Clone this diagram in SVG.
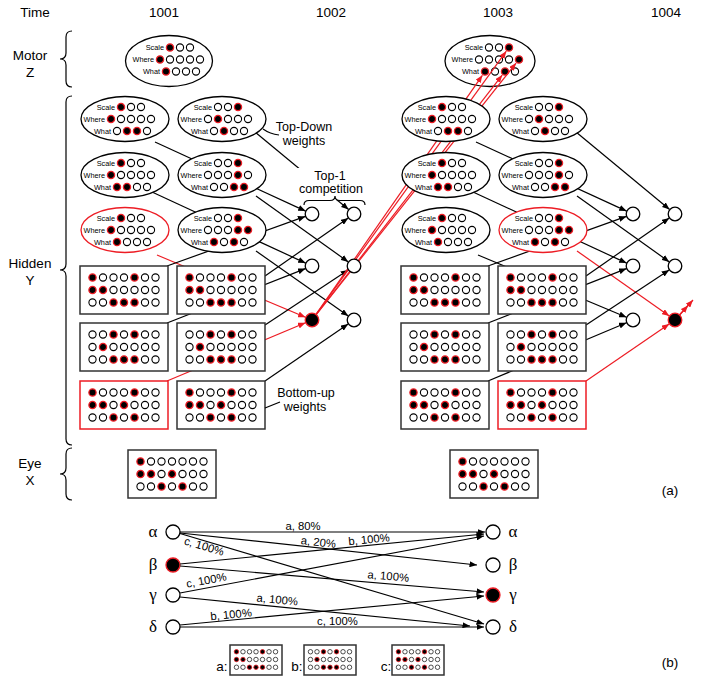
<svg xmlns="http://www.w3.org/2000/svg" width="705" height="679" viewBox="0 0 705 679">
<style>
text{font-family:"Liberation Sans",Arial,sans-serif;fill:#000}
.t{font-size:13.5px;text-anchor:middle}
.an{font-size:12.5px;text-anchor:middle}
.lb{font-size:7.3px;text-anchor:end}
.o{fill:#fff;stroke:#000;stroke-width:1.1}
.f{fill:#000;stroke:#ed1c24;stroke-width:1.3}
.el{fill:#fff;stroke:#000;stroke-width:1.3}
.elr{fill:#fff;stroke:#ed1c24;stroke-width:1.3}
.bx{fill:#fff;stroke:#333;stroke-width:1.5}
.bxr{fill:#fff;stroke:#ed1c24;stroke-width:1.5}
.ln{fill:none;stroke:#000;stroke-width:1.2;marker-end:url(#ah)}
.lr{fill:none;stroke:#ed1c24;stroke-width:1.2;marker-end:url(#ahr)}
.br{fill:none;stroke:#000;stroke-width:1.2}
.nd{fill:#fff;stroke:#000;stroke-width:1.3}
.ndf{fill:#000;stroke:#ed1c24;stroke-width:1.3}
.gk{font-family:"Liberation Serif","DejaVu Serif",serif;font-size:17px;text-anchor:middle}
.bl{font-size:11.3px;text-anchor:middle}
</style>
<defs>
<marker id="ah" viewBox="0 0 10 8" refX="10" refY="4" markerWidth="7.5" markerHeight="6" markerUnits="userSpaceOnUse" orient="auto"><path d="M0,0L10,4L0,8z" fill="#000"/></marker>
<marker id="ahr" viewBox="0 0 10 8" refX="10" refY="4" markerWidth="7.5" markerHeight="6" markerUnits="userSpaceOnUse" orient="auto"><path d="M0,0L10,4L0,8z" fill="#ed1c24"/></marker>
<g id="P1">
<circle class="f" cx="-31.5" cy="-12.5" r="3.6"/><circle class="o" cx="-21" cy="-12.5" r="3.6"/><circle class="o" cx="-10.5" cy="-12.5" r="3.6"/><circle class="o" cx="0" cy="-12.5" r="3.6"/><circle class="f" cx="10.5" cy="-12.5" r="3.6"/><circle class="o" cx="21" cy="-12.5" r="3.6"/><circle class="o" cx="31.5" cy="-12.5" r="3.6"/>
<circle class="f" cx="-31.5" cy="0" r="3.6"/><circle class="f" cx="-21" cy="0" r="3.6"/><circle class="o" cx="-10.5" cy="0" r="3.6"/><circle class="o" cx="0" cy="0" r="3.6"/><circle class="o" cx="10.5" cy="0" r="3.6"/><circle class="o" cx="21" cy="0" r="3.6"/><circle class="o" cx="31.5" cy="0" r="3.6"/>
<circle class="o" cx="-31.5" cy="12.5" r="3.6"/><circle class="o" cx="-21" cy="12.5" r="3.6"/><circle class="f" cx="-10.5" cy="12.5" r="3.6"/><circle class="f" cx="0" cy="12.5" r="3.6"/><circle class="f" cx="10.5" cy="12.5" r="3.6"/><circle class="o" cx="21" cy="12.5" r="3.6"/><circle class="o" cx="31.5" cy="12.5" r="3.6"/>
</g>
<g id="P2">
<circle class="o" cx="-31.5" cy="-12.5" r="3.6"/><circle class="o" cx="-21" cy="-12.5" r="3.6"/><circle class="f" cx="-10.5" cy="-12.5" r="3.6"/><circle class="o" cx="0" cy="-12.5" r="3.6"/><circle class="f" cx="10.5" cy="-12.5" r="3.6"/><circle class="o" cx="21" cy="-12.5" r="3.6"/><circle class="o" cx="31.5" cy="-12.5" r="3.6"/>
<circle class="o" cx="-31.5" cy="0" r="3.6"/><circle class="f" cx="-21" cy="0" r="3.6"/><circle class="o" cx="-10.5" cy="0" r="3.6"/><circle class="o" cx="0" cy="0" r="3.6"/><circle class="o" cx="10.5" cy="0" r="3.6"/><circle class="o" cx="21" cy="0" r="3.6"/><circle class="o" cx="31.5" cy="0" r="3.6"/>
<circle class="o" cx="-31.5" cy="12.5" r="3.6"/><circle class="o" cx="-21" cy="12.5" r="3.6"/><circle class="f" cx="-10.5" cy="12.5" r="3.6"/><circle class="f" cx="0" cy="12.5" r="3.6"/><circle class="f" cx="10.5" cy="12.5" r="3.6"/><circle class="o" cx="21" cy="12.5" r="3.6"/><circle class="o" cx="31.5" cy="12.5" r="3.6"/>
</g>
<g id="P3">
<circle class="f" cx="-31.5" cy="-12.5" r="3.6"/><circle class="o" cx="-21" cy="-12.5" r="3.6"/><circle class="o" cx="-10.5" cy="-12.5" r="3.6"/><circle class="o" cx="0" cy="-12.5" r="3.6"/><circle class="f" cx="10.5" cy="-12.5" r="3.6"/><circle class="o" cx="21" cy="-12.5" r="3.6"/><circle class="o" cx="31.5" cy="-12.5" r="3.6"/>
<circle class="f" cx="-31.5" cy="0" r="3.6"/><circle class="f" cx="-21" cy="0" r="3.6"/><circle class="o" cx="-10.5" cy="0" r="3.6"/><circle class="f" cx="0" cy="0" r="3.6"/><circle class="o" cx="10.5" cy="0" r="3.6"/><circle class="o" cx="21" cy="0" r="3.6"/><circle class="o" cx="31.5" cy="0" r="3.6"/>
<circle class="o" cx="-31.5" cy="12.5" r="3.6"/><circle class="o" cx="-21" cy="12.5" r="3.6"/><circle class="f" cx="-10.5" cy="12.5" r="3.6"/><circle class="o" cx="0" cy="12.5" r="3.6"/><circle class="f" cx="10.5" cy="12.5" r="3.6"/><circle class="o" cx="21" cy="12.5" r="3.6"/><circle class="o" cx="31.5" cy="12.5" r="3.6"/>
</g>
<g id="PE">
<circle class="f" cx="-31.5" cy="-12.5" r="3.6"/><circle class="o" cx="-21" cy="-12.5" r="3.6"/><circle class="o" cx="-10.5" cy="-12.5" r="3.6"/><circle class="o" cx="0" cy="-12.5" r="3.6"/><circle class="o" cx="10.5" cy="-12.5" r="3.6"/><circle class="o" cx="21" cy="-12.5" r="3.6"/><circle class="o" cx="31.5" cy="-12.5" r="3.6"/>
<circle class="f" cx="-31.5" cy="0" r="3.6"/><circle class="f" cx="-21" cy="0" r="3.6"/><circle class="o" cx="-10.5" cy="0" r="3.6"/><circle class="f" cx="0" cy="0" r="3.6"/><circle class="o" cx="10.5" cy="0" r="3.6"/><circle class="o" cx="21" cy="0" r="3.6"/><circle class="o" cx="31.5" cy="0" r="3.6"/>
<circle class="o" cx="-31.5" cy="12.5" r="3.6"/><circle class="o" cx="-21" cy="12.5" r="3.6"/><circle class="f" cx="-10.5" cy="12.5" r="3.6"/><circle class="o" cx="0" cy="12.5" r="3.6"/><circle class="f" cx="10.5" cy="12.5" r="3.6"/><circle class="o" cx="21" cy="12.5" r="3.6"/><circle class="o" cx="31.5" cy="12.5" r="3.6"/>
</g>
<g id="E1">
<circle class="f" cx="-4" cy="-12" r="3.6"/><circle class="o" cx="6" cy="-12" r="3.6"/><circle class="o" cx="16" cy="-12" r="3.6"/>
<circle class="f" cx="-14" cy="0" r="3.6"/><circle class="o" cx="-4" cy="0" r="3.6"/><circle class="o" cx="6" cy="0" r="3.6"/><circle class="o" cx="16" cy="0" r="3.6"/><circle class="o" cx="26" cy="0" r="3.6"/>
<circle class="o" cx="-8" cy="12" r="3.6"/><circle class="f" cx="2" cy="12" r="3.6"/><circle class="f" cx="12" cy="12" r="3.6"/><circle class="o" cx="22" cy="12" r="3.6"/>
</g>
<g id="E2">
<circle class="o" cx="-4" cy="-12" r="3.6"/><circle class="o" cx="6" cy="-12" r="3.6"/><circle class="f" cx="16" cy="-12" r="3.6"/>
<circle class="o" cx="-14" cy="0" r="3.6"/><circle class="f" cx="-4" cy="0" r="3.6"/><circle class="o" cx="6" cy="0" r="3.6"/><circle class="o" cx="16" cy="0" r="3.6"/><circle class="o" cx="26" cy="0" r="3.6"/>
<circle class="o" cx="-8" cy="12" r="3.6"/><circle class="f" cx="2" cy="12" r="3.6"/><circle class="o" cx="12" cy="12" r="3.6"/><circle class="o" cx="22" cy="12" r="3.6"/>
</g>
<g id="E3">
<circle class="f" cx="-4" cy="-12" r="3.6"/><circle class="o" cx="6" cy="-12" r="3.6"/><circle class="o" cx="16" cy="-12" r="3.6"/>
<circle class="f" cx="-14" cy="0" r="3.6"/><circle class="o" cx="-4" cy="0" r="3.6"/><circle class="o" cx="6" cy="0" r="3.6"/><circle class="o" cx="16" cy="0" r="3.6"/><circle class="o" cx="26" cy="0" r="3.6"/>
<circle class="f" cx="-8" cy="12" r="3.6"/><circle class="f" cx="2" cy="12" r="3.6"/><circle class="o" cx="12" cy="12" r="3.6"/><circle class="o" cx="22" cy="12" r="3.6"/>
</g>
<g id="E4">
<circle class="o" cx="-4" cy="-12" r="3.6"/><circle class="o" cx="6" cy="-12" r="3.6"/><circle class="f" cx="16" cy="-12" r="3.6"/>
<circle class="o" cx="-14" cy="0" r="3.6"/><circle class="o" cx="-4" cy="0" r="3.6"/><circle class="o" cx="6" cy="0" r="3.6"/><circle class="f" cx="16" cy="0" r="3.6"/><circle class="o" cx="26" cy="0" r="3.6"/>
<circle class="o" cx="-8" cy="12" r="3.6"/><circle class="o" cx="2" cy="12" r="3.6"/><circle class="f" cx="12" cy="12" r="3.6"/><circle class="f" cx="22" cy="12" r="3.6"/>
</g>
<g id="E5">
<circle class="f" cx="-4" cy="-12" r="3.6"/><circle class="o" cx="6" cy="-12" r="3.6"/><circle class="o" cx="16" cy="-12" r="3.6"/>
<circle class="f" cx="-14" cy="0" r="3.6"/><circle class="o" cx="-4" cy="0" r="3.6"/><circle class="o" cx="6" cy="0" r="3.6"/><circle class="o" cx="16" cy="0" r="3.6"/><circle class="o" cx="26" cy="0" r="3.6"/>
<circle class="f" cx="-8" cy="12" r="3.6"/><circle class="o" cx="2" cy="12" r="3.6"/><circle class="o" cx="12" cy="12" r="3.6"/><circle class="o" cx="22" cy="12" r="3.6"/>
</g>
<g id="E6">
<circle class="o" cx="-4" cy="-12" r="3.6"/><circle class="o" cx="6" cy="-12" r="3.6"/><circle class="f" cx="16" cy="-12" r="3.6"/>
<circle class="o" cx="-14" cy="0" r="3.6"/><circle class="o" cx="-4" cy="0" r="3.6"/><circle class="o" cx="6" cy="0" r="3.6"/><circle class="f" cx="16" cy="0" r="3.6"/><circle class="f" cx="26" cy="0" r="3.6"/>
<circle class="f" cx="-8" cy="12" r="3.6"/><circle class="o" cx="2" cy="12" r="3.6"/><circle class="f" cx="12" cy="12" r="3.6"/><circle class="o" cx="22" cy="12" r="3.6"/>
</g>
<g id="M3">
<circle class="o" cx="-4" cy="-12" r="3.6"/><circle class="o" cx="6" cy="-12" r="3.6"/><circle class="f" cx="16" cy="-12" r="3.6"/>
<circle class="o" cx="-14" cy="0" r="3.6"/><circle class="o" cx="-4" cy="0" r="3.6"/><circle class="o" cx="6" cy="0" r="3.6"/><circle class="o" cx="16" cy="0" r="3.6"/><circle class="f" cx="26" cy="0" r="3.6"/>
<circle class="f" cx="-8" cy="12" r="3.6"/><circle class="o" cx="2" cy="12" r="3.6"/><circle class="f" cx="12" cy="12" r="3.6"/><circle class="o" cx="22" cy="12" r="3.6"/>
</g>
</defs>

<g id="labels">
<text class="t" x="35" y="17">Time</text>
<text class="t" x="164" y="17">1001</text>
<text class="t" x="331" y="17">1002</text>
<text class="t" x="498" y="17">1003</text>
<text class="t" x="666" y="17">1004</text>
<text class="t" x="30" y="60">Motor</text>
<text class="t" x="30" y="77">Z</text>
<text class="t" x="30" y="268">Hidden</text>
<text class="t" x="30" y="285">Y</text>
<text class="t" x="30" y="468">Eye</text>
<text class="t" x="30" y="485">X</text>
<path class="br" d="M72,31Q66,31 66,37L66,53Q66,59 60,59Q66,59 66,65L66,81Q66,87 72,87"/>
<path class="br" d="M72,96Q66,96 66,102L66,264Q66,270 60,270Q66,270 66,276L66,439Q66,445 72,445"/>
<path class="br" d="M72,448Q66,448 66,454L66,468Q66,474 60,474Q66,474 66,480L66,494Q66,500 72,500"/>
<text class="t" x="670" y="495">(a)</text>
<text class="t" x="670" y="667">(b)</text>
</g>

<g id="z1001"><ellipse class="el" cx="169" cy="61" rx="43.5" ry="25.5"/>
<text class="lb" x="164" y="50.2">Scale</text><text class="lb" x="154" y="62.2">Where</text><text class="lb" x="160" y="74.2">What</text>
<use href="#E5" x="174" y="59.5"/></g>
<g id="z1003"><ellipse class="el" cx="490" cy="61" rx="45" ry="25.5"/>
<text class="lb" x="483" y="50.2">Scale</text><text class="lb" x="473" y="62.2">Where</text><text class="lb" x="479" y="74.2">What</text>
<use href="#M3" x="493" y="59.5"/></g>

<g id="connectors">
<path class="ln" d="M155,142L305.6,211.1"/>
<path class="ln" d="M255,132L348.6,209.5"/>
<path class="ln" d="M152,192L305.6,263.1"/>
<path class="ln" d="M256,196L348.3,261.9"/>
<path class="lr" d="M157,255L305.5,317.3"/>
<path class="ln" d="M256,251L348.3,316"/>
<path class="ln" d="M167,266L305.4,216.4"/>
<path class="ln" d="M265,276L348.3,218"/>
<path class="ln" d="M167,323L305.5,268.6"/>
<path class="ln" d="M265,325L348.2,269.9"/>
<path class="lr" d="M167,381L305.5,322.7"/>
<path class="ln" d="M265,381L348.2,324"/>
<path class="ln" d="M476,142L626.6,211.1"/>
<path class="ln" d="M576,132L669.6,209.5"/>
<path class="ln" d="M473,192L626.6,263.1"/>
<path class="ln" d="M577,196L669.3,261.9"/>
<path class="ln" d="M478,255L626.5,317.3"/>
<path class="lr" d="M577,251L669.3,316"/>
<path class="ln" d="M488,266L626.4,216.4"/>
<path class="ln" d="M586,276L669.3,218"/>
<path class="ln" d="M488,323L626.5,268.6"/>
<path class="ln" d="M586,325L669.2,269.9"/>
<path class="ln" d="M488,381L626.5,322.7"/>
<path class="lr" d="M586,381L669.2,324"/>
<path class="lr" d="M316,314.3L482.4,75.3"/>
<path class="lr" d="M316.1,314.3L506.3,51.2"/>
<path class="lr" d="M316.3,314.5L502.2,75.1"/>
<path class="lr" d="M316.4,314.5L516.1,63.1"/>
<path class="lr" d="M679.5,315L688,305.5"/>
<path class="lr" d="M679.5,315L693,300"/>
</g>

<g id="y1001-e1"><ellipse class="el" cx="125" cy="119" rx="44" ry="22.5"/><text class="lb" x="115" y="109.7">Scale</text><text class="lb" x="105" y="121.7">Where</text><text class="lb" x="111" y="133.7">What</text><use href="#E1" x="125" y="119"/></g>
<g id="y1001-e2"><ellipse class="el" cx="222" cy="119" rx="44" ry="22.5"/><text class="lb" x="212" y="109.7">Scale</text><text class="lb" x="202" y="121.7">Where</text><text class="lb" x="208" y="133.7">What</text><use href="#E2" x="222" y="119"/></g>
<g id="y1001-e3"><ellipse class="el" cx="125" cy="175" rx="44" ry="22.5"/><text class="lb" x="115" y="165.7">Scale</text><text class="lb" x="105" y="177.7">Where</text><text class="lb" x="111" y="189.7">What</text><use href="#E3" x="125" y="175"/></g>
<g id="y1001-e4"><ellipse class="el" cx="222" cy="175" rx="44" ry="22.5"/><text class="lb" x="212" y="165.7">Scale</text><text class="lb" x="202" y="177.7">Where</text><text class="lb" x="208" y="189.7">What</text><use href="#E4" x="222" y="175"/></g>
<g id="y1001-e5"><ellipse class="elr" cx="125" cy="230" rx="44" ry="22.5"/><text class="lb" x="115" y="220.7">Scale</text><text class="lb" x="105" y="232.7">Where</text><text class="lb" x="111" y="244.7">What</text><use href="#E5" x="125" y="230"/></g>
<g id="y1001-e6"><ellipse class="el" cx="222" cy="230" rx="44" ry="22.5"/><text class="lb" x="212" y="220.7">Scale</text><text class="lb" x="202" y="232.7">Where</text><text class="lb" x="208" y="244.7">What</text><use href="#E6" x="222" y="230"/></g>
<g id="y1001-r1"><rect class="bx" x="80" y="266" width="88" height="48"/><use href="#P1" x="124" y="290"/></g>
<g id="y1001-r2"><rect class="bx" x="177" y="266" width="88" height="48"/><use href="#P1" x="221" y="290"/></g>
<g id="y1001-r3"><rect class="bx" x="80" y="323" width="88" height="48"/><use href="#P2" x="124" y="347"/></g>
<g id="y1001-r4"><rect class="bx" x="177" y="323" width="88" height="48"/><use href="#P2" x="221" y="347"/></g>
<g id="y1001-r5"><rect class="bxr" x="80" y="381" width="88" height="48"/><use href="#P3" x="124" y="405"/></g>
<g id="y1001-r6"><rect class="bx" x="177" y="381" width="88" height="48"/><use href="#P3" x="221" y="405"/></g>

<g id="y1003-e1"><ellipse class="el" cx="446" cy="119" rx="44" ry="22.5"/><text class="lb" x="436" y="109.7">Scale</text><text class="lb" x="426" y="121.7">Where</text><text class="lb" x="432" y="133.7">What</text><use href="#E1" x="446" y="119"/></g>
<g id="y1003-e2"><ellipse class="el" cx="543" cy="119" rx="44" ry="22.5"/><text class="lb" x="533" y="109.7">Scale</text><text class="lb" x="523" y="121.7">Where</text><text class="lb" x="529" y="133.7">What</text><use href="#E2" x="543" y="119"/></g>
<g id="y1003-e3"><ellipse class="el" cx="446" cy="175" rx="44" ry="22.5"/><text class="lb" x="436" y="165.7">Scale</text><text class="lb" x="426" y="177.7">Where</text><text class="lb" x="432" y="189.7">What</text><use href="#E3" x="446" y="175"/></g>
<g id="y1003-e4"><ellipse class="el" cx="543" cy="175" rx="44" ry="22.5"/><text class="lb" x="533" y="165.7">Scale</text><text class="lb" x="523" y="177.7">Where</text><text class="lb" x="529" y="189.7">What</text><use href="#E4" x="543" y="175"/></g>
<g id="y1003-e5"><ellipse class="el" cx="446" cy="230" rx="44" ry="22.5"/><text class="lb" x="436" y="220.7">Scale</text><text class="lb" x="426" y="232.7">Where</text><text class="lb" x="432" y="244.7">What</text><use href="#E5" x="446" y="230"/></g>
<g id="y1003-e6"><ellipse class="elr" cx="543" cy="230" rx="44" ry="22.5"/><text class="lb" x="533" y="220.7">Scale</text><text class="lb" x="523" y="232.7">Where</text><text class="lb" x="529" y="244.7">What</text><use href="#E6" x="543" y="230"/></g>
<g id="y1003-r1"><rect class="bx" x="401" y="266" width="88" height="48"/><use href="#P1" x="445" y="290"/></g>
<g id="y1003-r2"><rect class="bx" x="498" y="266" width="88" height="48"/><use href="#P1" x="542" y="290"/></g>
<g id="y1003-r3"><rect class="bx" x="401" y="323" width="88" height="48"/><use href="#P2" x="445" y="347"/></g>
<g id="y1003-r4"><rect class="bx" x="498" y="323" width="88" height="48"/><use href="#P2" x="542" y="347"/></g>
<g id="y1003-r5"><rect class="bx" x="401" y="381" width="88" height="48"/><use href="#P3" x="445" y="405"/></g>
<g id="y1003-r6"><rect class="bxr" x="498" y="381" width="88" height="48"/><use href="#P3" x="542" y="405"/></g>

<g id="x1001"><rect class="bx" x="128" y="450" width="88" height="48"/><use href="#PE" x="172" y="474"/></g>
<g id="x1003"><rect class="bx" x="450" y="450" width="88" height="48"/><use href="#PE" x="494" y="474"/></g>

<g id="n1002-a1"><circle class="nd" cx="312" cy="214" r="6.8"/></g>
<g id="n1002-a2"><circle class="nd" cx="354" cy="214" r="6.8"/></g>
<g id="n1002-b1"><circle class="nd" cx="312" cy="266" r="6.8"/></g>
<g id="n1002-b2"><circle class="nd" cx="354" cy="266" r="6.8"/></g>
<g id="n1002-c1"><circle class="ndf" cx="312" cy="320" r="6.8"/></g>
<g id="n1002-c2"><circle class="nd" cx="354" cy="320" r="6.8"/></g>
<g id="n1004-a1"><circle class="nd" cx="633" cy="214" r="6.8"/></g>
<g id="n1004-a2"><circle class="nd" cx="675" cy="214" r="6.8"/></g>
<g id="n1004-b1"><circle class="nd" cx="633" cy="266" r="6.8"/></g>
<g id="n1004-b2"><circle class="nd" cx="675" cy="266" r="6.8"/></g>
<g id="n1004-c1"><circle class="nd" cx="633" cy="320" r="6.8"/></g>
<g id="n1004-c2"><circle class="ndf" cx="675" cy="320" r="6.8"/></g>

<g id="annotations">
<path class="br" d="M263,129Q270,134 279,135"/>
<text class="an" x="304" y="130.5">Top-Down</text>
<text class="an" x="304" y="144.5">weights</text>
<rect x="294" y="168" width="74" height="32" fill="#fff"/>
<text class="an" x="330" y="179.5">Top-1</text>
<text class="an" x="331" y="193">competition</text>
<path class="br" d="M304,205Q304,200.5 309,200.5L330,200.5Q335,200.5 335,196Q335,200.5 340,200.5L360,200.5Q365,200.5 365,205"/>
<path class="br" d="M265,408L280,402"/>
<text class="an" x="306" y="396.5">Bottom-up</text>
<text class="an" x="305" y="410.5">weights</text>
</g>

<g id="b-nodes">
<g id="b-l-alpha"><circle class="nd" cx="173" cy="532" r="7"/><text class="gk" x="153" y="537">α</text></g>
<g id="b-l-beta"><circle class="ndf" cx="173" cy="565" r="7"/><text class="gk" x="153" y="570">β</text></g>
<g id="b-l-gamma"><circle class="nd" cx="173" cy="595" r="7"/><text class="gk" x="153" y="600">γ</text></g>
<g id="b-l-delta"><circle class="nd" cx="173" cy="627" r="7"/><text class="gk" x="153" y="632">δ</text></g>
<g id="b-r-alpha"><circle class="nd" cx="493" cy="532" r="7"/><text class="gk" x="513" y="537">α</text></g>
<g id="b-r-beta"><circle class="nd" cx="493" cy="565" r="7"/><text class="gk" x="513" y="570">β</text></g>
<g id="b-r-gamma"><circle class="ndf" cx="493" cy="595" r="7"/><text class="gk" x="513" y="600">γ</text></g>
<g id="b-r-delta"><circle class="nd" cx="493" cy="627" r="7"/><text class="gk" x="513" y="632">δ</text></g>
</g>
<g id="b-connectors">
<path class="ln" d="M180,532L485,532"/>
<path class="ln" d="M180,533L477,565"/>
<path class="ln" d="M180,533.5L484,624"/>
<path class="ln" d="M180,564L484,534"/>
<path class="ln" d="M180,566L484,592"/>
<path class="ln" d="M180,593L484,536"/>
<path class="ln" d="M180,597L470,626"/>
<path class="ln" d="M180,625L484,596"/>
<path class="ln" d="M180,627L484,627"/>
<text class="bl" x="303" y="529.5">a, 80%</text>
<text class="bl" x="318" y="546" transform="rotate(6.15 318 546)">a, 20%</text>
<text class="bl" x="203" y="550" transform="rotate(16.6 203 550)">c, 100%</text>
<text class="bl" x="369.5" y="543.3" transform="rotate(-5.64 369.5 543.3)">b, 100%</text>
<text class="bl" x="388" y="580" transform="rotate(4.89 388 580)">a, 100%</text>
<text class="bl" x="207" y="584" transform="rotate(-10.62 207 584)">c, 100%</text>
<text class="bl" x="277" y="603.5" transform="rotate(5.71 277 603.5)">a, 100%</text>
<text class="bl" x="231.5" y="618.3" transform="rotate(-5.45 231.5 618.3)">b, 100%</text>
<text class="bl" x="337.5" y="625.3">c, 100%</text>
</g>
<g id="legend">
<g id="leg-a"><text class="t" x="222" y="671">a:</text><rect class="bx" x="230" y="645" width="52" height="30" stroke-width="1.2"/><use href="#P1" transform="translate(256 659.5) scale(0.62)"/></g>
<g id="leg-b"><text class="t" x="297" y="671">b:</text><rect class="bx" x="304" y="645" width="52" height="30" stroke-width="1.2"/><use href="#P2" transform="translate(330 659.5) scale(0.62)"/></g>
<g id="leg-c"><text class="t" x="386" y="671">c:</text><rect class="bx" x="392" y="645" width="52" height="30" stroke-width="1.2"/><use href="#P3" transform="translate(418 659.5) scale(0.62)"/></g>
</g>
</svg>
